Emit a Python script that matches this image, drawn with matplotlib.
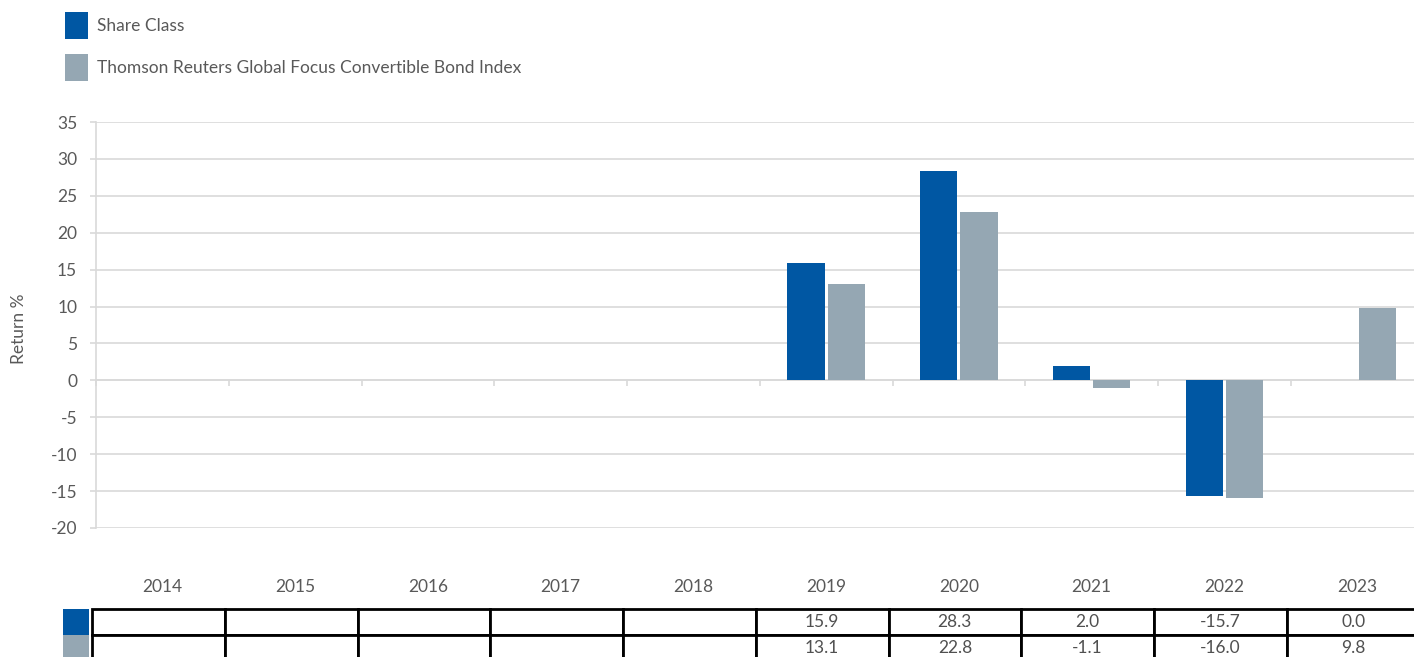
import matplotlib
matplotlib.use("Agg")
import matplotlib.pyplot as plt
from matplotlib.patches import Patch
import numpy as np

years = ["2014", "2015", "2016", "2017", "2018", "2019", "2020", "2021", "2022", "2023"]
share_class = [np.nan, np.nan, np.nan, np.nan, np.nan, 15.9, 28.3, 2.0, -15.7, 0.0]
index_vals = [np.nan, np.nan, np.nan, np.nan, np.nan, 13.1, 22.8, -1.1, -16.0, 9.8]
series_names = ["Share Class", "Thomson Reuters Global Focus Convertible Bond Index"]
colors = ["#0057A3", "#95A7B3"]
yticks = list(range(-20, 40, 5))

plt.rcParams['font.family'] = ['Lato', 'DejaVu Sans']
txt = "#595959"
W, H = 1414, 657
fig = plt.figure(figsize=(W / 100, H / 100), dpi=100)
ax = fig.add_axes([96 / W, (H - 528) / H, 1327.5 / W, 406 / H])

x = np.arange(len(years))
bw = 0.28
off = 0.152
ax.bar(x - off, share_class, width=bw, color=colors[0], linewidth=0, zorder=3)
ax.bar(x + off, index_vals, width=bw, color=colors[1], linewidth=0, zorder=3)

ax.set_xlim(-0.5, len(years) - 0.5)
ax.set_ylim(-20, 35)
ax.set_yticks(yticks)
ax.set_yticklabels([str(v) for v in yticks])
ax.yaxis.grid(True, color="#d9d9d9", linewidth=1.2, zorder=0)
ax.set_axisbelow(True)
ax.tick_params(axis='y', length=4.5, color="#d9d9d9", width=1.2, pad=9, labelsize=12.5, labelcolor=txt)

for s in ["top", "right"]:
    ax.spines[s].set_visible(False)
ax.spines["left"].set_color("#d9d9d9")
ax.spines["left"].set_linewidth(1.2)
ax.spines["bottom"].set_position(("data", 0))
ax.spines["bottom"].set_color("#d9d9d9")
ax.spines["bottom"].set_linewidth(1.2)
ax.set_xticks(np.arange(len(years) + 1) - 0.5)
ax.set_xticklabels([])
ax.tick_params(axis='x', length=4.5, color="#d9d9d9", width=1.2)

for i, yr in enumerate(years):
    ax.text(i, -0.145, yr, transform=ax.get_xaxis_transform(), ha="center", va="center",
            fontsize=12.5, color=txt)

ax.set_ylabel("Return %", fontsize=12.5, color=txt)
ax.yaxis.set_label_coords(-0.052, 0.49)

def fmt(v):
    return "" if np.isnan(v) else f"{v:.1f}"

cell_text = [[fmt(v) for v in share_class], [fmt(v) for v in index_vals]]
tb = ax.table(cellText=cell_text, cellLoc="center", bbox=[-0.003, -0.3276, 1.0, 0.128])
tb.auto_set_font_size(False)
tb.set_fontsize(12.5)
for (r, c), cell in tb.get_celld().items():
    cell.set_linewidth(2)
    cell.set_edgecolor("black")
    cell.get_text().set_color("#505050")
    cell.set_clip_on(False)

sw = ax.table(cellText=[[""], [""]], cellColours=[[colors[0]], [colors[1]]],
              bbox=[(63 - 96) / 1327.5, -0.3276, 26 / 1327.5, 0.128])
for (r, c), cell in sw.get_celld().items():
    cell.set_linewidth(0)
    cell.set_edgecolor("none")

handles = [Patch(facecolor=colors[0]), Patch(facecolor=colors[1])]
fig.legend(handles, series_names, loc="upper left", bbox_to_anchor=(58 / W, 1 - 5 / H),
           frameon=False, fontsize=12.5, labelcolor=txt, handlelength=1.3, handleheight=2.05,
           handletextpad=0.55, labelspacing=0.85, borderaxespad=0)

fig.savefig("out.png", dpi=100)
